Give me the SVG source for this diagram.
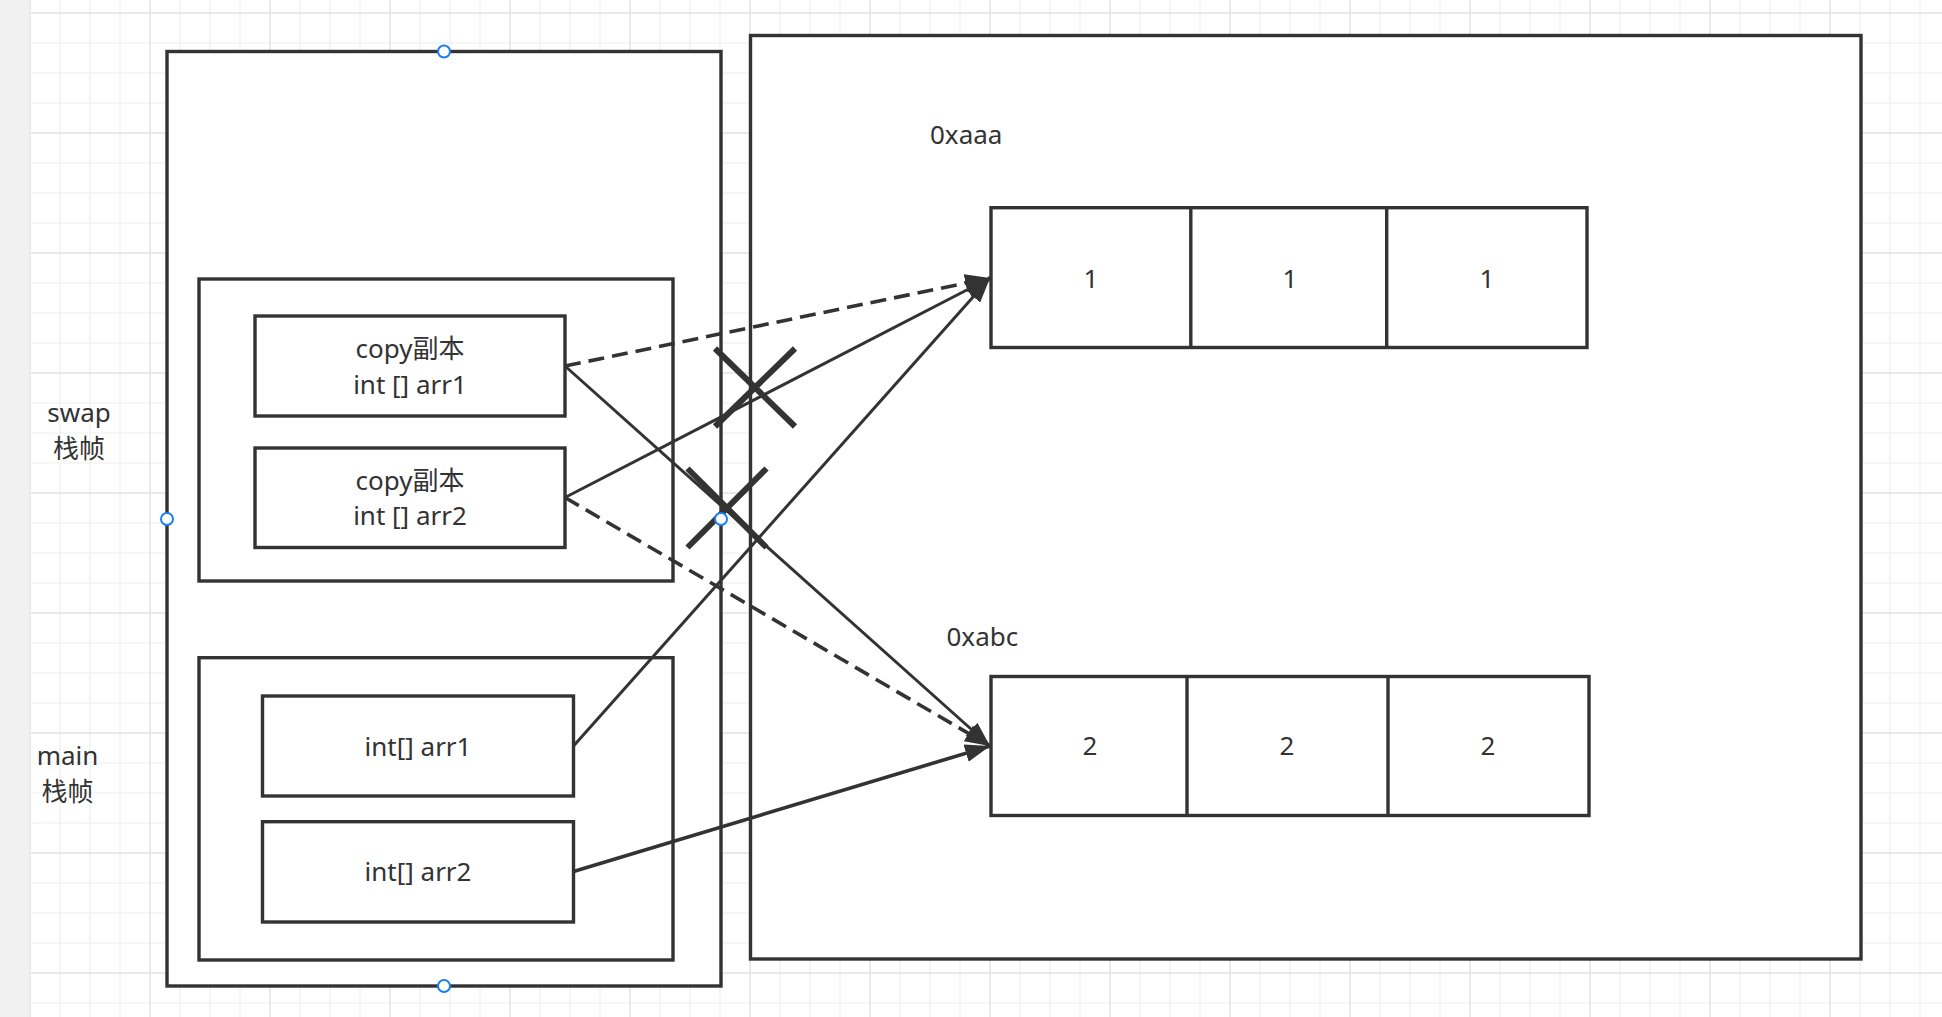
<svg xmlns="http://www.w3.org/2000/svg" width="1942" height="1017" viewBox="0 0 1942 1017">
  <style>
    .box { fill: #ffffff; stroke: #333333; stroke-width: 3.4; }
    .frame { fill: #ffffff; stroke: #333333; stroke-width: 3.4; }
    .cell { fill: none; stroke: #333333; stroke-width: 3.4; }
    .lbl { font-family: "Noto Sans", "Noto Sans CJK SC", sans-serif; font-size: 26px; fill: #333333; }
    .mid { text-anchor: middle; }
    .conn { fill: none; stroke: #333333; stroke-width: 3; marker-end: url(#arrow); }
    .dash { stroke-dasharray: 16 8; stroke-width: 3.6; }
    .cross { stroke: #333333; stroke-width: 6; stroke-linecap: butt; }
    .handle { fill: #ffffff; stroke: #1a7ff0; stroke-width: 2; }
  </style>
  <defs>
    <pattern id="grid" x="29" y="12" width="120" height="120" patternUnits="userSpaceOnUse">
      <path d="M0,31H120M0,61H120M0,91H120M31,0V120M61,0V120M91,0V120" stroke="#f3f3f3" stroke-width="1.6" fill="none"/>
      <path d="M0,1H120M1,0V120" stroke="#e9e9e9" stroke-width="2" fill="none"/>
    </pattern>
    <marker id="arrow" markerUnits="userSpaceOnUse" markerWidth="26" markerHeight="18" viewBox="0 0 26 18" refX="25" refY="9" orient="auto">
      <path d="M0,0 L25,9 L0,18 Z" fill="#333333"/>
    </marker>
  </defs>

  <!-- background -->
  <rect x="0" y="0" width="1942" height="1017" fill="#ffffff"/>
  <rect x="0" y="0" width="1942" height="1017" fill="url(#grid)"/>
  <rect x="0" y="0" width="29" height="1017" fill="#f1f1f1"/>

  <!-- stack frame container -->
  <g id="stack">
    <rect class="frame" x="167" y="51.5" width="554" height="934.5"/>
  </g>

  <!-- heap container -->
  <g id="heap">
    <rect class="frame" x="750.5" y="35.5" width="1110.5" height="923.5"/>
  </g>

  <g id="label-swap">
    <text class="lbl mid"><tspan x="79" y="422">swap</tspan><tspan x="79" y="457.5">栈帧</tspan></text>
  </g>
  <g id="label-main">
    <text class="lbl mid"><tspan x="67.5" y="765">main</tspan><tspan x="67.5" y="800.5">栈帧</tspan></text>
  </g>

  <g id="swap-frame">
    <rect class="box" x="199" y="279" width="474" height="302"/>
  </g>
  <g id="copy-arr1">
    <rect class="box" x="255" y="316" width="310" height="100"/>
    <text class="lbl mid"><tspan x="410" y="358">copy副本</tspan><tspan x="410" y="393.5">int [] arr1</tspan></text>
  </g>
  <g id="copy-arr2">
    <rect class="box" x="255" y="448" width="310" height="99.5"/>
    <text class="lbl mid"><tspan x="410" y="489.5">copy副本</tspan><tspan x="410" y="525">int [] arr2</tspan></text>
  </g>

  <g id="main-frame">
    <rect class="box" x="199" y="657.7" width="474" height="302.3"/>
  </g>
  <g id="main-arr1">
    <rect class="box" x="262.5" y="696" width="311" height="100"/>
    <text class="lbl mid" x="418" y="756">int[] arr1</text>
  </g>
  <g id="main-arr2">
    <rect class="box" x="262.5" y="821.7" width="311" height="100.3"/>
    <text class="lbl mid" x="418" y="881">int[] arr2</text>
  </g>

  <g id="addr-aaa">
    <text class="lbl" x="930" y="143.5">0xaaa</text>
  </g>
  <g id="array1">
    <rect class="box" x="991" y="207.7" width="596" height="139.8"/>
    <line class="cell" x1="1190.8" y1="207.7" x2="1190.8" y2="347.5"/>
    <line class="cell" x1="1386.7" y1="207.7" x2="1386.7" y2="347.5"/>
    <text class="lbl mid" x="1091" y="287.5">1</text>
    <text class="lbl mid" x="1290" y="287.5">1</text>
    <text class="lbl mid" x="1487" y="287.5">1</text>
  </g>

  <g id="addr-abc">
    <text class="lbl" x="946.5" y="645.7">0xabc</text>
  </g>
  <g id="array2">
    <rect class="box" x="991" y="676.5" width="598" height="139"/>
    <line class="cell" x1="1187" y1="676.5" x2="1187" y2="815.5"/>
    <line class="cell" x1="1388" y1="676.5" x2="1388" y2="815.5"/>
    <text class="lbl mid" x="1090" y="755">2</text>
    <text class="lbl mid" x="1287" y="755">2</text>
    <text class="lbl mid" x="1488" y="755">2</text>
  </g>

  <!-- connectors -->
  <g id="connectors">
    <line class="conn dash" x1="565" y1="366" x2="990" y2="278"/>
    <line class="conn" x1="565" y1="366" x2="990" y2="746"/>
    <line class="conn" x1="565" y1="497.5" x2="990" y2="278"/>
    <line class="conn dash" x1="565" y1="497.5" x2="990" y2="746"/>
    <line class="conn" x1="573.5" y1="746" x2="990" y2="278"/>
    <line class="conn" x1="573.5" y1="871.5" x2="990" y2="746" style="stroke-width:3.6"/>
  </g>

  <!-- cross marks -->
  <g id="cross-marks">
    <line class="cross" x1="715" y1="348.5" x2="795" y2="426.5"/>
    <line class="cross" x1="795" y1="348.5" x2="715" y2="426.5"/>
    <line class="cross" x1="687.5" y1="468.5" x2="766.5" y2="547.5"/>
    <line class="cross" x1="766.5" y1="468.5" x2="687.5" y2="547.5"/>
  </g>

  <!-- selection handles -->
  <g id="handles">
    <circle class="handle" cx="444" cy="51.5" r="6"/>
    <circle class="handle" cx="167" cy="519" r="6"/>
    <circle class="handle" cx="721" cy="519" r="6"/>
    <circle class="handle" cx="444" cy="986" r="6"/>
  </g>
</svg>
